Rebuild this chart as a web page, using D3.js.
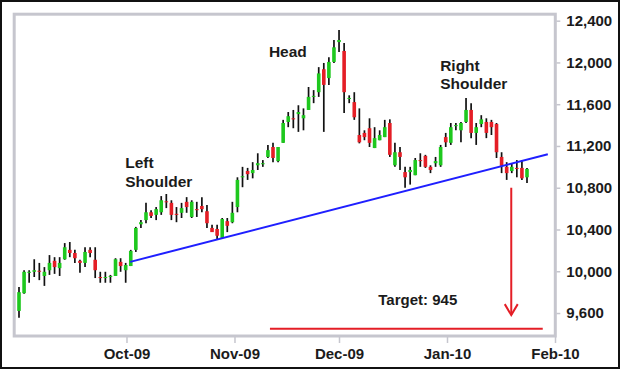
<!DOCTYPE html>
<html>
<head>
<meta charset="utf-8">
<script src="https://cdn.jsdelivr.net/npm/d3@7"></script>
<style>
  body { margin: 0; background: #fff; }
  svg { display: block; }
</style>
</head>
<body>
<div id="chart"></div>
<script>
// daily candles, Sep-09 .. Jan-10 (one entry per trading day)
const open = [9620,9790,9985,9995,10005,9955,10010,10100,10030,10115,
  10205,10175,10100,10080,10205,10110,9945,9935,9945,9955,
  10090,10010,10050,10205,10450,10490,10565,10540,10565,10670,
  10655,10550,10560,10665,10520,10595,10625,10575,10415,10405,
  10320,10480,10470,10615,10900,10960,10940,11015,11025,11095,
  11190,11055,11230,11430,11465,11505,11465,11545,11670,11715,
  11935,11850,12005,12195,12110,11650,11620,11305,11325,11370,
  11180,11255,11285,11420,11015,11140,10950,10950,10920,11065,
  11105,11000,11035,11015,11285,11230,11390,11350,11430,11545,
  11325,11410,11430,11430,11410,11095,11000,10960,10990,10990,
  10900]
const high = [9850,10010,10010,10115,10080,10040,10155,10135,10135,10270,
  10280,10205,10110,10230,10230,10230,9995,9995,9965,10125,
  10125,10080,10205,10425,10490,10655,10585,10615,10720,10740,
  10680,10615,10655,10710,10680,10665,10710,10635,10445,10445,
  10510,10510,10665,10900,11000,10990,11045,11130,11065,11210,
  11230,11190,11450,11525,11545,11590,11560,11765,11735,11955,
  11995,12050,12215,12310,12185,11685,11715,11560,11350,11465,
  11380,11350,11450,11455,11230,11190,11000,11000,11085,11130,
  11115,11015,11095,11210,11325,11420,11420,11430,11660,11610,
  11420,11495,11465,11450,11420,11140,11045,11035,11065,11065,
  10990]
const low = [9555,9785,9890,9945,9915,9860,9965,9975,9955,10110,
  10135,10080,9985,10040,10135,9935,9890,9890,9890,9955,
  9995,9890,10050,10185,10415,10460,10510,10490,10540,10605,
  10490,10470,10510,10560,10510,10520,10565,10415,10375,10300,
  10320,10375,10460,10565,10805,10875,10890,10970,11000,11085,
  11045,11045,11230,11380,11370,11335,11350,11545,11610,11670,
  11335,11785,11995,12100,11515,11610,11450,11225,11255,11190,
  11180,11255,11285,11095,11000,10970,10800,10830,10920,11000,
  10990,10940,11000,11000,11190,11210,11350,11235,11420,11275,
  11210,11380,11275,11305,11085,10940,10875,10940,10900,10875,
  10845]
const close = [9800,9995,9995,10010,9995,9995,10080,10040,10080,10230,
  10175,10125,10080,10185,10175,10010,9935,9945,9955,10115,
  10050,10060,10195,10415,10470,10565,10530,10595,10680,10665,
  10540,10540,10605,10615,10665,10585,10595,10460,10375,10340,
  10500,10435,10560,10875,10910,10930,10970,11035,11035,11160,
  11085,11190,11420,11485,11455,11525,11495,11670,11680,11895,
  11785,12005,12145,12215,11715,11660,11475,11235,11285,11230,
  11275,11305,11380,11115,11140,11095,10900,10970,11065,11055,
  11000,10970,11055,11190,11235,11380,11400,11420,11545,11325,
  11380,11455,11325,11380,11140,11010,10940,11000,10980,10890,
  10980]

const monthTicks = ['2009-10-01', '2009-11-01', '2009-12-01', '2010-01-01', '2010-02-01']
const yTicks = [9600, 10000, 10400, 10800, 11200, 11600, 12000, 12400]

// neckline and target (index along the candles, price)
const neckIdx = [21.9, 104.1]
const neckVal = [10090, 11120]
const targetValue = 9450
const targetIdx = [49.4, 103.1]
const arrowIdx = 96.9
const arrowFrom = 10800
const arrowTo = 9580

const labels = [
  { lines: ['Left', 'Shoulder'], i: 20.9, v: 10985 },
  { lines: ['Head'], i: 49.2, v: 12050 },
  { lines: ['Right', 'Shoulder'], i: 82.9, v: 11917 }
]
const targetLabel = { text: 'Target: 945', i: 78.5, v: 9677 }

const W = 620, H = 369
const plot = { left: 14.2, right: 555.3, top: 14.2, bottom: 336 }
const FONT = '"Liberation Sans", Arial, Helvetica, sans-serif'
const frameColor = '#c6c6ce'
const green = '#1ec81e'
const red = '#e41e26'

const svg = d3.select('#chart')
  .append('svg')
  .attr('width', W)
  .attr('height', H)
  .style('font-family', FONT)

// outer border
svg.append('rect')
  .attr('x', 1).attr('y', 1)
  .attr('width', W - 2).attr('height', H - 2)
  .attr('fill', '#fff')
  .attr('stroke', '#111')
  .attr('stroke-width', 2)

// scales
const x = d3.scaleLinear()
  .domain([0, open.length - 1])
  .range([19, 527])

const parse = d3.timeParse('%Y-%m-%d')
const xTime = d3.scaleTime()
  .domain([parse('2009-08-30'), parse('2010-02-01')])
  .range([15, 555])

const y = d3.scaleLinear()
  .domain([9380, 12462])
  .range([plot.bottom, plot.top])

// plot frame
svg.append('rect')
  .attr('x', plot.left).attr('y', plot.top)
  .attr('width', plot.right - plot.left)
  .attr('height', plot.bottom - plot.top)
  .attr('fill', 'none')
  .attr('stroke', frameColor)
  .attr('stroke-width', 3)

// axes
const xAxis = d3.axisBottom(xTime)
  .tickValues(monthTicks.map(parse))
  .tickFormat(d3.timeFormat('%b-%y'))
  .tickSize(6)
  .tickPadding(5)

const gx = svg.append('g')
  .attr('transform', `translate(0, ${plot.bottom + 1})`)
  .call(xAxis)
  .attr('font-family', FONT)
  .attr('font-size', 15)
gx.select('.domain').remove()
gx.selectAll('line').attr('stroke', frameColor).attr('stroke-width', 1.5)
gx.selectAll('text').attr('font-weight', 'bold').attr('fill', '#1b1b1b')

const yAxis = d3.axisRight(y)
  .tickValues(yTicks)
  .tickFormat(d3.format(','))
  .tickSize(4)
  .tickPadding(6)

const gy = svg.append('g')
  .attr('transform', `translate(${plot.right + 1}, 0)`)
  .call(yAxis)
  .attr('font-family', FONT)
  .attr('font-size', 15)
gy.select('.domain').remove()
gy.selectAll('line').attr('stroke', frameColor).attr('stroke-width', 1.5)
gy.selectAll('text').attr('font-weight', 'bold').attr('fill', '#1b1b1b')

// candles
const idx = d3.range(open.length)
const candles = svg.append('g')

candles.selectAll('line')
  .data(idx)
  .enter()
  .append('line')
  .attr('x1', i => x(i)).attr('x2', i => x(i))
  .attr('y1', i => y(high[i])).attr('y2', i => y(low[i]))
  .attr('stroke', '#111')
  .attr('stroke-width', 1.7)

candles.selectAll('rect')
  .data(idx)
  .enter()
  .append('rect')
  .attr('x', i => x(i) - 1.8)
  .attr('width', 3.6)
  .attr('y', i => y(Math.max(open[i], close[i])))
  .attr('height', i => Math.max(1, Math.abs(y(open[i]) - y(close[i]))))
  .attr('fill', i => close[i] >= open[i] ? green : red)

// neckline
svg.append('line')
  .attr('x1', x(neckIdx[0])).attr('y1', y(neckVal[0]))
  .attr('x2', x(neckIdx[1])).attr('y2', y(neckVal[1]))
  .attr('stroke', '#1f1fff')
  .attr('stroke-width', 2)

// target line + arrow
svg.append('line')
  .attr('x1', x(targetIdx[0])).attr('x2', x(targetIdx[1]))
  .attr('y1', y(targetValue)).attr('y2', y(targetValue))
  .attr('stroke', red)
  .attr('stroke-width', 2)

const ax = x(arrowIdx)
const tip = y(arrowTo)
svg.append('line')
  .attr('x1', ax).attr('x2', ax)
  .attr('y1', y(arrowFrom)).attr('y2', tip)
  .attr('stroke', red)
  .attr('stroke-width', 2)
svg.append('path')
  .attr('d', `M${ax - 6.5},${tip - 11}L${ax},${tip}L${ax + 6.5},${tip - 11}`)
  .attr('fill', 'none')
  .attr('stroke', red)
  .attr('stroke-width', 2)

// pattern labels
labels.forEach(l => {
  const t = svg.append('text')
    .attr('x', x(l.i))
    .attr('y', y(l.v))
    .attr('font-size', 15.5)
    .attr('font-weight', 'bold')
    .attr('fill', '#1b1b1b')
  l.lines.forEach((s, k) => {
    t.append('tspan')
      .attr('x', x(l.i))
      .attr('dy', k === 0 ? 0 : 18.3)
      .text(s)
  })
})

svg.append('text')
  .attr('x', x(targetLabel.i))
  .attr('y', y(targetLabel.v))
  .attr('text-anchor', 'middle')
  .attr('font-size', 15)
  .attr('font-weight', 'bold')
  .attr('fill', '#1b1b1b')
  .text(targetLabel.text)
</script>
</body>
</html>
